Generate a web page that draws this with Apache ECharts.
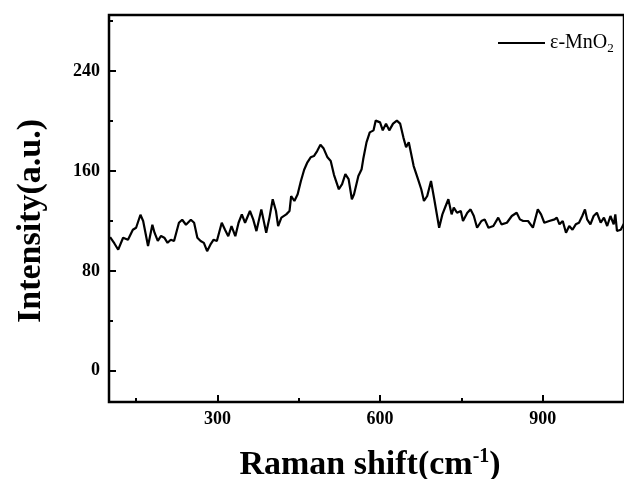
<!DOCTYPE html>
<html>
<head>
<meta charset="utf-8">
<script src="https://cdn.jsdelivr.net/npm/echarts@6/dist/echarts.min.js"></script>
<style>
  html, body { margin: 0; padding: 0; background: #fff; }
  #main { width: 624px; height: 479px; }
</style>
</head>
<body>
<div id="main"></div>
<script>
// Raman spectrum of e-MnO2
var ramanShift = [
  102, 110, 117, 126, 135, 144, 150, 158, 163, 172, 175, 180, 184, 190, 196, 202, 208, 214, 220,
  229, 235, 242, 251, 257, 263, 269, 275, 281, 287, 293, 299, 308, 314, 320, 326, 333, 339, 345,
  351, 360, 366, 372, 381, 390, 396, 402, 408, 412, 418, 427, 433, 436, 442, 448, 454, 460, 466,
  472, 478, 484, 490, 496, 503, 509, 515, 524, 530, 536, 542, 548, 552, 560, 566, 569, 575, 581,
  588, 592, 600, 605, 611, 617, 624, 631, 637, 643, 648, 653, 662, 670, 676, 681, 687, 694, 700,
  709, 715, 721, 726, 732, 736, 742, 749, 753, 761, 767, 773, 779, 787, 793, 800, 809, 818, 824,
  834, 843, 852, 858, 864, 873, 882, 891, 897, 903, 912, 922, 926, 931, 937, 943, 949, 955, 961,
  967, 973, 978, 982, 988, 994, 1000, 1007, 1013, 1019, 1025, 1031, 1034, 1037, 1044, 1050
];
var intensity = [
  107, 102, 97, 106.6, 105, 113, 114.6, 125, 120, 100, 98.5, 117, 110.6, 104, 108, 106.6, 102.5, 105, 104,
  118.6, 121, 117, 121, 118.6, 106.6, 104, 102.5, 95.8, 101, 105, 104, 118.6, 113, 107.8, 115.9, 107.8, 118.6, 125.3,
  118.6, 128, 121.3, 111.9, 129.3, 110.6, 122.7, 137.4, 128, 115.9, 122.7, 125.3, 128, 140, 136, 141.4, 152, 161, 167,
  171, 172, 176, 181, 178, 171, 168, 157, 145.4, 149.5, 157.5, 153.5, 137.4, 141.4, 156, 161.5, 169.6, 183, 191,
  192.6, 200.4, 199, 192.6, 198, 192.6, 198, 200.4, 198, 187, 179, 183, 164, 153.5, 145.4, 136, 140, 152, 137.4,
  114.6, 125.3, 132, 137.4, 125.3, 130.7, 126.6, 128, 120, 126.6, 129.3, 124, 114.6, 120, 121.3, 114.6, 116, 122.7, 117.3,
  118.6, 124, 126.6, 121.3, 120, 120, 114.6, 129.3, 125.3, 118.6, 120, 121.3, 122.7, 117.3, 120, 110.6, 116, 113, 117.3,
  118.6, 124, 129.3, 121.3, 117.3, 124, 126.6, 118.6, 122.7, 116, 124, 117.3, 125.3, 112, 113, 118
];
var xMajorTicks = [300, 600, 900];
var xMinorTicks = [150, 450, 750, 1050];
var yMajorTicks = [0, 80, 160, 240];
var yMinorTicks = [40, 120, 200, 280];
var seriesName = 'ε-MnO2';

var points = ramanShift.map(function (x, i) { return [x, intensity[i]]; });

var font = '"Liberation Serif", "Times New Roman", serif';
var tickLabel = { fontFamily: font, fontWeight: 'bold', fontSize: 18, color: '#000' };

var myChart = echarts.init(document.getElementById('main'));
var option = {
  backgroundColor: '#fff',
  animation: false,
  grid: {
    show: true, left: 109, top: 15, right: -6, bottom: 77,
    borderColor: '#000', borderWidth: 2.5, backgroundColor: 'transparent'
  },
  legend: {
    data: [seriesName],
    left: 493, top: 28,
    icon: 'rect',
    itemWidth: 47, itemHeight: 2, itemGap: 5,
    formatter: function () { return '{a|ε-MnO}{b|2}'; },
    textStyle: {
      rich: {
        a: { fontFamily: font, fontSize: 20, color: '#000' },
        b: { fontFamily: font, fontSize: 13, color: '#000', padding: [12, 0, 0, 0] }
      }
    }
  },
  xAxis: [
    {
      type: 'value', min: 100, max: 1050,
      axisLine: { show: false, onZero: false },
      splitLine: { show: false },
      axisTick: { customValues: xMajorTicks, inside: true, length: 7, lineStyle: { color: '#000', width: 2 } },
      axisLabel: Object.assign({ customValues: xMajorTicks, margin: 8 }, tickLabel)
    },
    {
      type: 'value', min: 100, max: 1050, position: 'bottom',
      axisLine: { show: false, onZero: false },
      splitLine: { show: false },
      axisTick: { customValues: xMinorTicks, inside: true, length: 4, lineStyle: { color: '#000', width: 2 } },
      axisLabel: { show: false }
    }
  ],
  yAxis: [
    {
      type: 'value', min: -25, max: 285,
      axisLine: { show: false, onZero: false },
      splitLine: { show: false },
      axisTick: { customValues: yMajorTicks, inside: true, length: 7, lineStyle: { color: '#000', width: 2 } },
      axisLabel: Object.assign({ customValues: yMajorTicks, margin: 9 }, tickLabel)
    },
    {
      type: 'value', min: -25, max: 285, position: 'left',
      axisLine: { show: false, onZero: false },
      splitLine: { show: false },
      axisTick: { customValues: yMinorTicks, inside: true, length: 4, lineStyle: { color: '#000', width: 2 } },
      axisLabel: { show: false }
    }
  ],
  graphic: [
    {
      type: 'text', x: 31, y: 221, rotation: Math.PI / 2,
      style: {
        text: 'Intensity(a.u.)', fill: '#000',
        font: 'bold 34px ' + font, align: 'center', verticalAlign: 'middle'
      }
    },
    {
      type: 'text', x: 370, y: 465,
      style: {
        text: '{a|Raman shift(cm}{s|-1}{a|)}', align: 'center', verticalAlign: 'middle',
        rich: {
          a: { fontFamily: font, fontWeight: 'bold', fontSize: 34, fill: '#000', lineHeight: 36 },
          s: { fontFamily: font, fontWeight: 'bold', fontSize: 20, fill: '#000', verticalAlign: 'top', lineHeight: 36 }
        }
      }
    }
  ],
  series: [
    {
      name: seriesName,
      type: 'line',
      xAxisIndex: 0, yAxisIndex: 0,
      data: points,
      symbol: 'none',
      lineStyle: { color: '#000', width: 2.2 },
      itemStyle: { color: '#000' }
    }
  ]
};
myChart.setOption(option);
</script>
</body>
</html>
